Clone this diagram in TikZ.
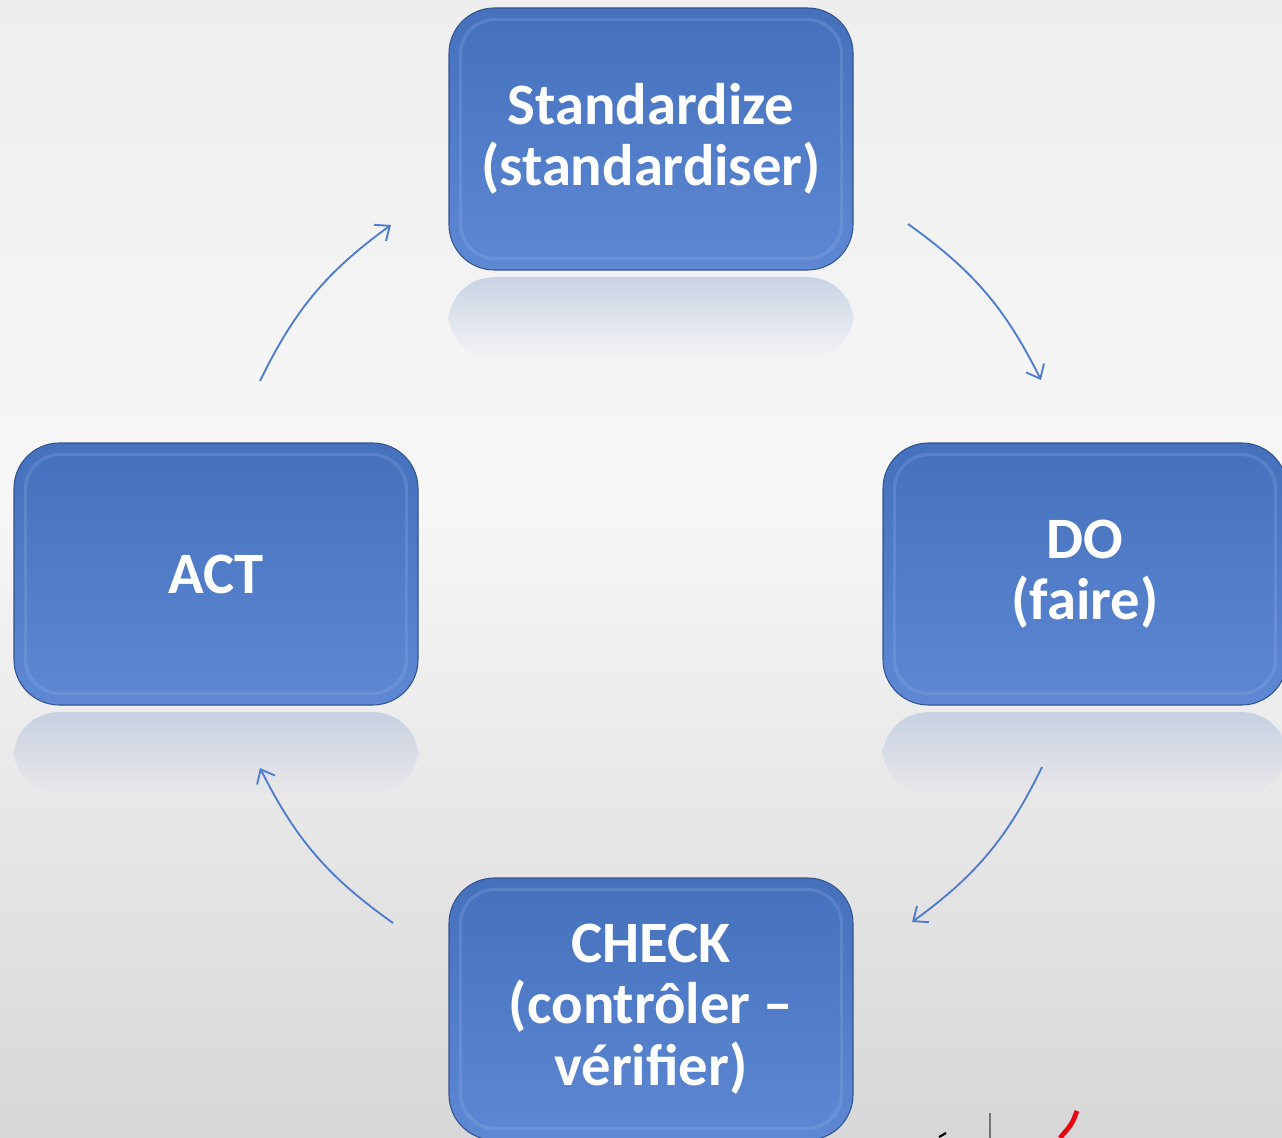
\documentclass[tikz,border=0pt]{standalone}
\usepackage{fontspec}
\setmainfont{Carlito}
\usetikzlibrary{arrows.meta,fadings}

\definecolor{boxtop}{HTML}{4470BC}
\definecolor{boxbot}{HTML}{5E88D3}
\definecolor{boxline}{HTML}{34548F}
\definecolor{rim}{HTML}{A4C2F2}
\definecolor{arrowblue}{HTML}{4F7DCC}
\definecolor{bgtop}{HTML}{EEEEEE}
\definecolor{bgmid}{HTML}{F7F7F7}
\definecolor{bgbot}{HTML}{D8D7D8}
\definecolor{refl}{HTML}{AFBEDB}
\definecolor{logored}{HTML}{E30613}

\tikzset{
  pdcabox/.style={rectangle, rounded corners=34pt,
    minimum width=303pt, minimum height=196.5pt, inner sep=0pt,
    draw=boxline, line width=0.8pt,
    top color=boxtop, bottom color=boxbot,
    text=white, align=center,
    font=\bfseries\fontsize{44}{46}\selectfont},
  boxrim/.style={draw=rim, line width=2.5pt, opacity=0.2, rounded corners=26pt},
  reflection/.style={fill=refl, opacity=0.6, path fading=south, rounded corners=34pt},
  cyclearrow/.style={draw=arrowblue, line width=1.4pt,
    -{Straight Barb[length=9pt,width=15pt]}, bend left=14},
}

\begin{document}
\begin{tikzpicture}[x=0.75pt,y=-0.75pt]
  \useasboundingbox (0,0) rectangle (1282,1138);
  \clip (0,0) rectangle (1282,1138);

  % background
  \shade[top color=bgtop, bottom color=bgmid] (0,0) rectangle (1282,500);
  \shade[top color=bgmid, bottom color=bgbot] (0,499) rectangle (1282,1138);

  % the four steps
  \node[pdcabox] (std)   at (651,139)  {Standardize\\(standardiser)};
  \node[pdcabox] (do)    at (1085,574) {DO\\(faire)};
  \node[pdcabox] (check) at (651,1009) {CHECK\\(contrôler –\\vérifier)};
  \node[pdcabox] (act)   at (216,574)  {ACT};

  % bevel rims and floor reflections
  \foreach \n in {std,do,check,act}{
    \draw[boxrim] ([xshift=9pt,yshift=9pt]\n.south west) rectangle ([xshift=-9pt,yshift=-9pt]\n.north east);
  }
  \foreach \n in {std,do,act}{
    \fill[reflection] ([yshift=-5pt]\n.south west) rectangle ([yshift=-66pt]\n.south east);
  }

  % arrow end points
  \coordinate (a1s) at (908,224);  \coordinate (a1e) at (1041,380);
  \coordinate (a2s) at (1042,767); \coordinate (a2e) at (912,922);
  \coordinate (a3s) at (393,923);  \coordinate (a3e) at (260,768);
  \coordinate (a4s) at (260,381);  \coordinate (a4e) at (391,225);

  \draw[cyclearrow] (a1s) to (a1e);
  \draw[cyclearrow] (a2s) to (a2e);
  \draw[cyclearrow] (a3s) to (a3e);
  \draw[cyclearrow] (a4s) to (a4e);

  % logo fragments at the lower edge
  \draw[black!55, line width=0.9pt] (990,1113) -- (990,1138);
  \draw[black, line width=1.6pt] (939,1137) -- (946,1133);
  \draw[logored, line width=3.6pt] (1077,1111) .. controls (1072,1124) .. (1060,1138);
\end{tikzpicture}
\end{document}
